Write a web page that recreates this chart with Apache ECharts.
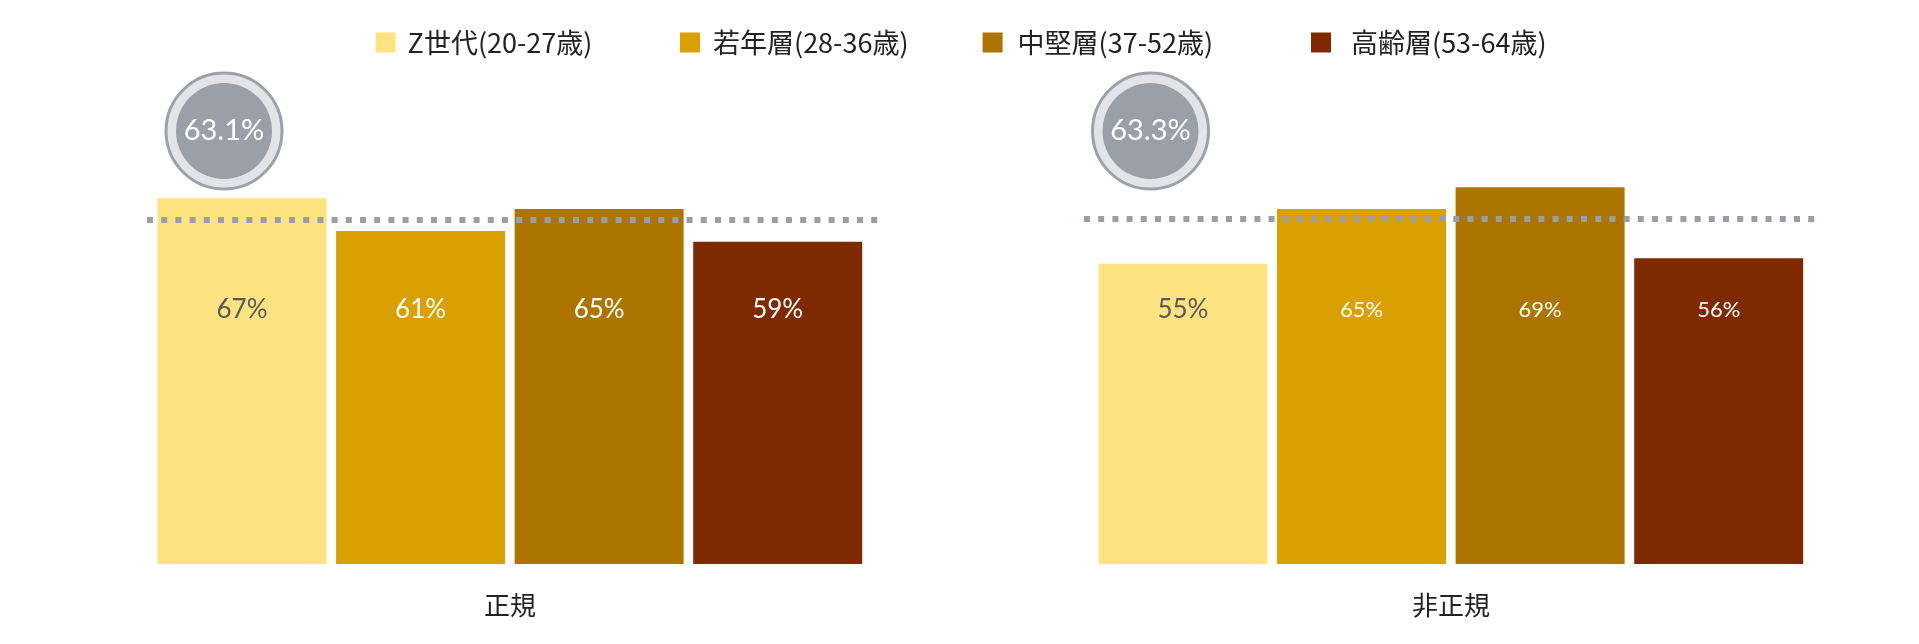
<!DOCTYPE html>
<html>
<head>
<meta charset="utf-8">
<script src="https://cdn.jsdelivr.net/npm/echarts@6/dist/echarts.min.js"></script>
<style>
html,body{margin:0;padding:0;background:#fff;}
#chart{width:1919px;height:644px;}
</style>
</head>
<body>
<div id="chart"></div>
<script>
// ---- data ----
const categories = ['正規', '非正規'];
const ageGroups = ['Z世代(20-27歳)', '若年層(28-36歳)', '中堅層(37-52歳)', '高齢層(53-64歳)'];
const regularValues = [67, 61, 65, 59];
const nonRegularValues = [55, 65, 69, 56];
const averageValues = [63.1, 63.3];

// ---- styles ----
const barColors = ['#FFE380', '#D9A000', '#AD7500', '#7E2900'];
const labelColors = ['#595959', '#ffffff', '#ffffff', '#ffffff'];
const groupValues = [regularValues, nonRegularValues];
const labelSizes = [[26, 26, 26, 26], [26, 22, 22, 22]];
const grids = [
  { left: 147, right: 1919 - 882, top: 18, bottom: 80 },
  { left: 1084, right: 1919 - 1818, top: 18, bottom: 80 }
];
const xRanges = [[-0.532, 3.584], [-0.554, 3.556]];
const circleCenters = [[224, 131], [1150.5, 131]];
const legendLefts = [375.6, 680, 982.6, 1311];
const legendGaps = [19, 20, 22, 27];

const chart = echarts.init(document.getElementById('chart'));

const series = [];
groupValues.forEach((vals, g) => {
  vals.forEach((v, i) => {
    const s = {
      type: 'bar',
      name: ageGroups[i],
      xAxisIndex: g,
      yAxisIndex: g,
      data: [[i, v]],
      barWidth: 169,
      barGap: '-100%',
      itemStyle: { color: barColors[i] },
      label: {
        show: true,
        position: 'inside',
        formatter: p => p.value[1] + '%',
        color: labelColors[i],
        fontFamily: 'Lato',
        fontSize: labelSizes[g][i]
      },
      labelLayout: { y: 310, align: 'center', verticalAlign: 'middle' },
      emphasis: { disabled: true }
    };
    if (i === 0) {
      s.markLine = {
        silent: true,
        symbol: 'none',
        label: { show: false },
        lineStyle: { color: '#999EA7', width: 6, type: [6, 8.2], cap: 'butt' },
        data: [{ yAxis: averageValues[g] }],
        emphasis: { disabled: true }
      };
    }
    series.push(s);
  });
});

const graphic = [];
averageValues.forEach((avg, g) => {
  const [cx, cy] = circleCenters[g];
  graphic.push({
    type: 'circle', shape: { cx: cx, cy: cy, r: 58 },
    style: { fill: '#E3E4E7', stroke: '#9DA1A9', lineWidth: 3 }, z: 10
  });
  graphic.push({
    type: 'circle', shape: { cx: cx, cy: cy, r: 48 },
    style: { fill: '#9A9FA8' }, z: 11
  });
  graphic.push({
    type: 'text', x: cx, y: cy, z: 12,
    style: {
      text: avg.toFixed(1) + '%', fill: '#ffffff',
      font: '29px Lato', align: 'center', verticalAlign: 'middle'
    }
  });
});

const option = {
  backgroundColor: '#ffffff',
  animation: false,
  legend: ageGroups.map((name, i) => ({
    data: [name],
    left: legendLefts[i],
    top: 29,
    padding: 0,
    icon: 'rect',
    itemWidth: 20,
    itemHeight: 20,
    selectedMode: false,
    textStyle: {
      fontFamily: 'Noto Sans CJK JP',
      fontSize: 27,
      color: '#222222',
      padding: [0, 0, 0, legendGaps[i] - 12]
    }
  })),
  grid: grids,
  xAxis: categories.map((c, g) => ({
    type: 'value',
    gridIndex: g,
    min: xRanges[g][0],
    max: xRanges[g][1],
    name: c,
    nameLocation: 'middle',
    nameGap: 28,
    nameTextStyle: {
      fontFamily: 'Noto Sans CJK JP',
      fontSize: 26,
      color: '#222222',
      padding: g === 0 ? [0, 9, 0, 0] : [0, 0, 0, 0]
    },
    axisLine: { show: false },
    axisTick: { show: false },
    axisLabel: { show: false },
    splitLine: { show: false }
  })),
  yAxis: categories.map((c, g) => ({
    type: 'value',
    gridIndex: g,
    min: 0,
    max: 100,
    show: false,
    splitLine: { show: false }
  })),
  series: series,
  graphic: graphic
};

chart.setOption(option);
</script>
</body>
</html>
